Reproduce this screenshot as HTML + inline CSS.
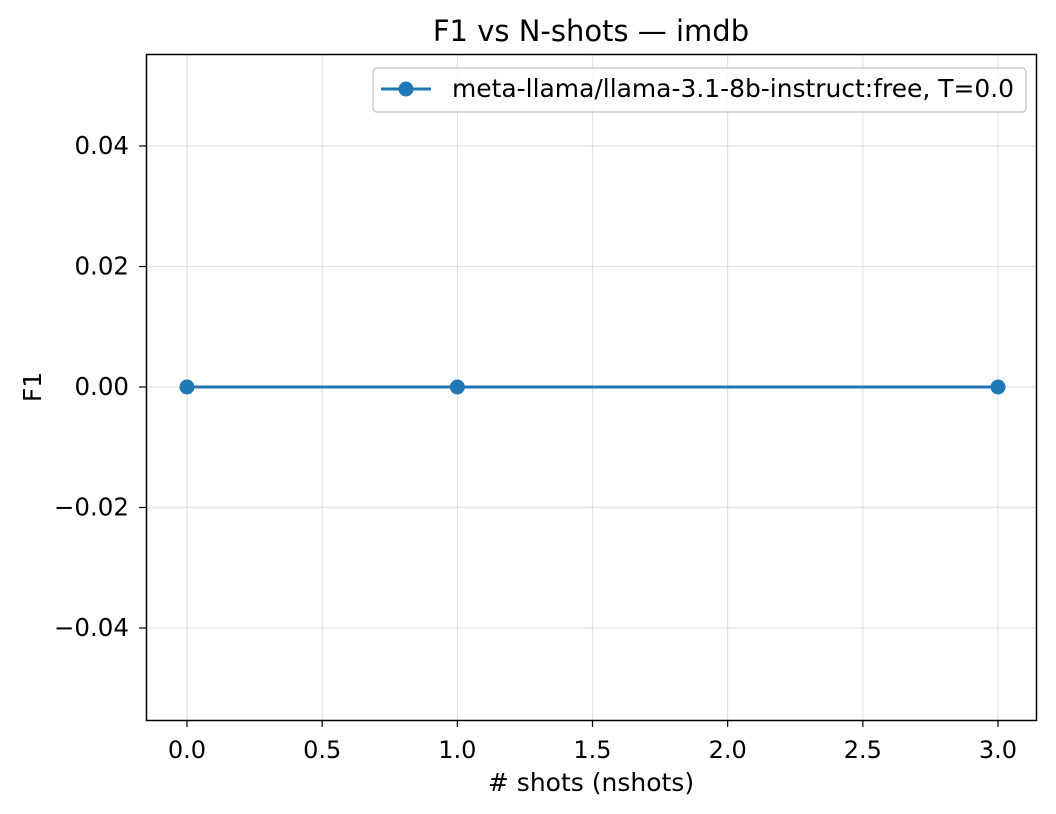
<!DOCTYPE html>
<html><head><meta charset="utf-8"><style>
body{margin:0;background:#fff}
svg{display:block;font-family:"DejaVu Sans","Liberation Sans",sans-serif}
</style></head><body>
<svg id="chart" width="1056" height="814" viewBox="0 0 1056 814">
<rect x="0" y="0" width="1056" height="814" fill="#fff"/>
<g id="grid"></g>
<g id="axes"></g>
<g id="series"></g>
<rect x="146.5" y="54.5" width="890" height="666" fill="none" stroke="#000" stroke-width="1.5"/>
<text x="591" y="41" font-size="29" text-anchor="middle">F1 vs N-shots — imdb</text>
<text x="591" y="791" font-size="25" text-anchor="middle"># shots (nshots)</text>
<text x="41" y="387" font-size="25" text-anchor="middle" transform="rotate(-90 41 387)">F1</text>
<g>
<rect x="373" y="68" width="653" height="44" rx="4" fill="#fff" fill-opacity="0.8" stroke="#ccc" stroke-width="1.5"/>
<line x1="381" y1="89" x2="431" y2="89" stroke="#1f77b4" stroke-width="3"/>
<circle cx="406" cy="89" r="7.5" fill="#1f77b4"/>
<text x="452" y="97" font-size="24.5" textLength="562" lengthAdjust="spacingAndGlyphs">meta-llama/llama-3.1-8b-instruct:free, T=0.0</text>
</g>
</svg>
<script>
const xs = [0, 1, 3];
const f1 = [0, 0, 0];
const xTicks = [0.0, 0.5, 1.0, 1.5, 2.0, 2.5, 3.0];
const xTickLabels = ["0.0","0.5","1.0","1.5","2.0","2.5","3.0"];
const yTicks = [-0.04, -0.02, 0.0, 0.02, 0.04];
const yTickLabels = ["\u22120.04","\u22120.02","0.00","0.02","0.04"];
const NS="http://www.w3.org/2000/svg";
function X(v){return 187+(v-0)*(998-187)/3;}
function Y(v){return 387-v*(387-146)/0.04;}
function mk(tag,attrs,parent){const e=document.createElementNS(NS,tag);for(const k in attrs)e.setAttribute(k,attrs[k]);parent.appendChild(e);return e;}
const grid=document.getElementById('grid'),axes=document.getElementById('axes'),series=document.getElementById('series');
xTicks.forEach((v,i)=>{
  const x=X(v);
  const g=mk('line',{x1:x,x2:x,y1:54,y2:720,stroke:'#b0b0b0','stroke-opacity':0.35,'stroke-width':1.2},grid);
  
  
  const t=mk('line',{x1:x,x2:x,y1:720,y2:727,stroke:'#000','stroke-width':1.2},axes);
  
  
  const l=mk('text',{x:x,y:758,'font-size':24,'text-anchor':'middle'},axes);
  l.textContent=xTickLabels[i];
  
  
});
yTicks.forEach((v,i)=>{
  const y=Y(v);
  const g=mk('line',{x1:146,x2:1036,y1:y,y2:y,stroke:'#b0b0b0','stroke-opacity':0.35,'stroke-width':1.2},grid);
  
  
  const t=mk('line',{x1:139,x2:146,y1:y,y2:y,stroke:'#000','stroke-width':1.2},axes);
  
  
  const l=mk('text',{x:129,y:y+8,'font-size':24.5,'text-anchor':'end'},axes);
  l.textContent=yTickLabels[i];
  
  
});
const pl=mk('polyline',{points:xs.map((x,i)=>X(x)+','+Y(f1[i])).join(' '),fill:'none',stroke:'#1f77b4','stroke-width':3},series);


xs.forEach((x,i)=>{
  const c=mk('circle',{cx:X(x),cy:Y(f1[i]),r:7.5,fill:'#1f77b4'},series);
  
  
});
</script>
</body></html>
